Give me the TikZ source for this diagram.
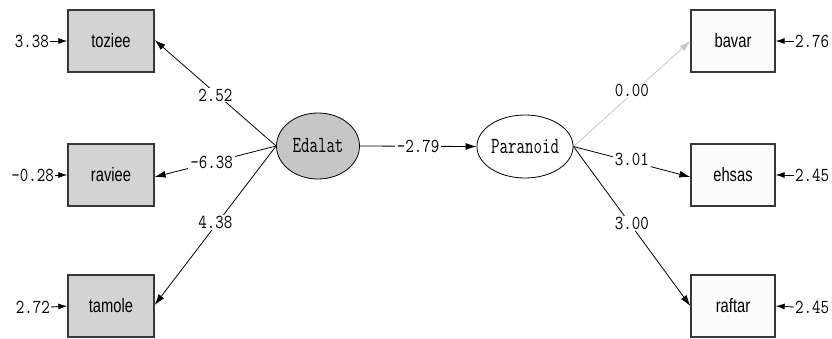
\documentclass[tikz,border=0pt]{standalone}
\usepackage{fontspec}
\usepackage{graphicx}
\usetikzlibrary{arrows.meta,shapes.geometric}
\newfontfamily\sansfam{Liberation Sans}
\definecolor{obsgray}{RGB}{211,211,211}
\definecolor{latgray}{RGB}{198,198,198}
\definecolor{framegray}{RGB}{55,55,55}
\definecolor{fixedpath}{RGB}{200,200,200}
\definecolor{paper}{RGB}{252,252,252}
% tall, narrow label text
\newcommand{\numlab}[1]{\scalebox{1}[1.2]{\ttfamily\fontsize{16.5}{18}\selectfont #1}}
\newcommand{\latlab}[1]{\scalebox{1}[1.4]{\ttfamily\fontsize{16.5}{18}\selectfont #1}}
\newcommand{\obslab}[1]{\scalebox{0.95}[1.25]{\sansfam\fontsize{15.5}{17}\selectfont #1}}
\tikzset{
  obsbox/.style={draw=framegray, line width=1.3pt, minimum width=86pt, minimum height=62pt, inner sep=0pt},
  obsleft/.style={obsbox, fill=obsgray},
  obsright/.style={obsbox, fill=paper, minimum width=84pt},
  latent/.style={ellipse, draw=black, line width=0.8pt, inner sep=0pt},
  path/.style={draw=black, line width=0.8pt, -{Latex[length=11pt,width=7pt]}},
  fixed/.style={path, draw=fixedpath, -{Latex[length=11pt,width=7pt,fill=fixedpath]}},
  errpath/.style={draw=black, line width=0.9pt, -{Latex[length=9pt,width=6pt]}},
  coef/.style={fill=white, inner xsep=2pt, inner ysep=1pt},
  errval/.style={inner sep=1pt}
}
\begin{document}
\begin{tikzpicture}[x=1pt,y=-1pt]
\useasboundingbox (0,0) rectangle (832,338);

% observed indicators
\node[obsleft]  (toziee) at (111,41)  {\obslab{toziee}};
\node[obsleft]  (raviee) at (111,175) {\obslab{raviee}};
\node[obsleft]  (tamole) at (111,306) {\obslab{tamole}};
\node[obsright] (bavar)  at (733,41)  {\obslab{bavar}};
\node[obsright] (ehsas)  at (733,175) {\obslab{ehsas}};
\node[obsright] (raftar) at (733,306) {\obslab{raftar}};

% latent variables
\node[latent, fill=latgray, minimum width=83pt, minimum height=66pt] (edalat) at (318,146) {\latlab{Edalat}};
\node[latent, fill=white, minimum width=84pt, minimum height=63pt] (paranoid) at (525,146.5) {\latlab{Paranoid}};

% structural path
\draw[path] (edalat.east) -- node[coef] {\numlab{-2.79}} (paranoid.west);

% loadings of Edalat
\draw[path] (edalat.west) -- node[coef, pos=0.5, yshift=-2pt] {\numlab{2.52}} ([yshift=1pt]toziee.east);
\draw[path] (edalat.west) -- node[coef, pos=0.53] {\numlab{-6.38}} ([yshift=-2pt]raviee.east);
\draw[path] (edalat.west) -- node[coef, pos=0.5, yshift=3pt] {\numlab{4.38}} ([yshift=1pt]tamole.east);

% loadings of Paranoid
\draw[fixed] (paranoid.east) -- node[coef, pos=0.5, yshift=3pt] {\numlab{0.00}} (bavar.west);
\draw[path] (paranoid.east) -- node[coef, pos=0.5, yshift=2pt] {\numlab{3.01}} ([yshift=-2pt]ehsas.west);
\draw[path] (paranoid.east) -- node[coef, pos=0.5, yshift=3pt] {\numlab{3.00}} (raftar.west);

% error variances
\coordinate (et) at (50,41);
\coordinate (er) at (55,175);
\coordinate (ea) at (51,307);
\coordinate (eb) at (794,41);
\coordinate (ee) at (794,175);
\coordinate (ef) at (794,307);
\draw[errpath] (et) -- (toziee.west);
\draw[errpath] (er) -- (raviee.west);
\draw[errpath] (ea) -- (tamole.west);
\draw[errpath] (eb) -- (bavar.east);
\draw[errpath] (ee) -- (ehsas.east);
\draw[errpath] (ef) -- (raftar.east);
\node[errval, anchor=east] (vt) at (et) {\numlab{3.38}};
\node[errval, anchor=east] (vr) at (er) {\numlab{-0.28}};
\node[errval, anchor=east] (va) at (ea) {\numlab{2.72}};
\node[errval, anchor=west] (vb) at (eb) {\numlab{2.76}};
\node[errval, anchor=west] (ve) at (ee) {\numlab{2.45}};
\node[errval, anchor=west] (vf) at (ef) {\numlab{2.45}};
\end{tikzpicture}
\end{document}
